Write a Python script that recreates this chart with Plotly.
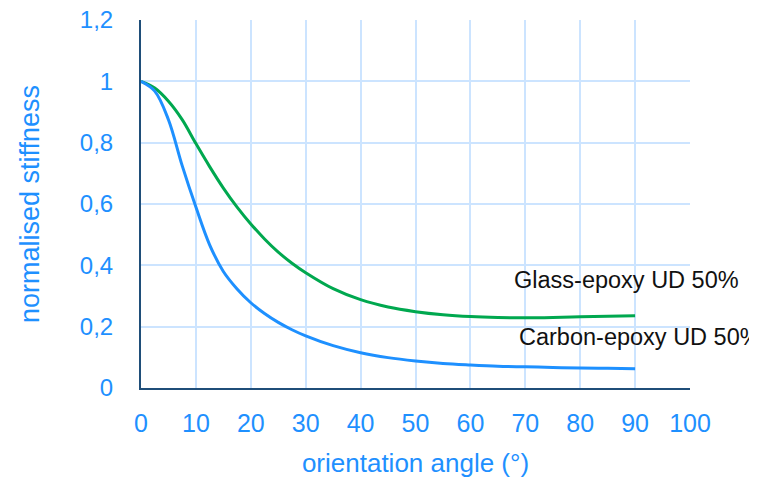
import plotly.graph_objects as go

# ------------------------------------------------------------
# Data
# ------------------------------------------------------------
angle_glass = [0, 2.5, 5, 7.5, 10, 12.5, 15, 17.5, 20, 22.5, 25, 27.5, 30,
               35, 40, 45, 50, 55, 60, 65, 70, 75, 80, 85, 90]
glass = [1.0, 0.978, 0.935, 0.875, 0.797, 0.722, 0.652, 0.59, 0.535, 0.486,
         0.443, 0.407, 0.376, 0.324, 0.288, 0.264, 0.249, 0.239, 0.233,
         0.230, 0.229, 0.230, 0.232, 0.234, 0.236]

angle_carbon = [0, 2.5, 5, 7.5, 10, 12.5, 15, 17.5, 20, 22.5, 25, 27.5, 30,
                35, 40, 45, 50, 55, 60, 65, 70, 75, 80, 85, 90]
carbon = [1.0, 0.968, 0.875, 0.725, 0.59, 0.467, 0.38, 0.323, 0.278, 0.243,
          0.214, 0.19, 0.17, 0.138, 0.115, 0.099, 0.088, 0.080, 0.075,
          0.071, 0.069, 0.067, 0.065, 0.064, 0.063]

labels = ['Glass-epoxy UD 50%', 'Carbon-epoxy UD 50%']
label_x = [67.5, 68.4]
label_y = [0.352, 0.166]

blue = '#1E90FF'
green = '#00A84F'
navy = '#1F4E79'
grid = '#CCE4FF'

# ------------------------------------------------------------
# Figure
# ------------------------------------------------------------
fig = go.Figure()
fig.add_trace(go.Scatter(x=angle_glass, y=glass, mode='lines',
                         line=dict(color=green, width=3, shape='spline',
                                   smoothing=1.0),
                         name=labels[0]))
fig.add_trace(go.Scatter(x=angle_carbon, y=carbon, mode='lines',
                         line=dict(color=blue, width=3, shape='spline',
                                   smoothing=1.0),
                         name=labels[1]))

for txt, ax, ay in zip(labels, label_x, label_y):
    fig.add_annotation(x=ax, y=ay, text=txt, showarrow=False,
                       xanchor='left', yanchor='middle',
                       font=dict(size=23.5, color='#111111'))

fig.update_layout(
    width=757, height=481,
    margin=dict(l=133, r=75, t=12, b=101),
    paper_bgcolor='white', plot_bgcolor='white',
    showlegend=False,
    font=dict(family='Liberation Sans, Arial, sans-serif', color=blue),
    separators=', ',
)
fig.update_xaxes(
    range=[0, 100], dtick=10, tick0=0, automargin=False,
    showgrid=True, gridcolor=grid, gridwidth=2,
    showline=True, linecolor=navy, linewidth=2,
    zeroline=False, ticks='', ticklabelstandoff=12,
    ticklabeloverflow='allow',
    tickfont=dict(size=25, color=blue),
    title=dict(text='orientation angle (°)', font=dict(size=26, color=blue),
               standoff=18),
)
fig.update_yaxes(
    range=[0, 1.2], dtick=0.2, tick0=0, automargin=False,
    showgrid=True, gridcolor=grid, gridwidth=2,
    showline=True, linecolor=navy, linewidth=2,
    zeroline=False, ticks='', ticklabelstandoff=21,
    ticklabeloverflow='allow',
    tickfont=dict(size=24, color=blue),
    title=dict(text='normalised stiffness', font=dict(size=27, color=blue),
               standoff=32),
)

fig.write_html('out.html')
